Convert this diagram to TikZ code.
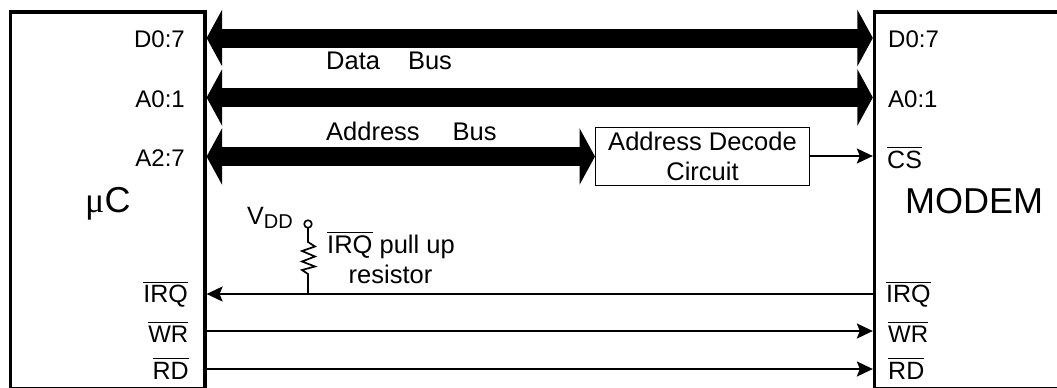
\documentclass[tikz,border=0pt]{standalone}
\usepackage{fontspec}
\setmainfont{Liberation Sans}
\newfontfamily\symf{Liberation Serif}
\usetikzlibrary{arrows.meta,calc}
\tikzset{
  x=1pt,y=-1pt,
  chip/.style={draw,line width=3.3pt,inner sep=0pt,anchor=north west},
  lab/.style={inner sep=0pt,font=\fontsize{24}{27}\selectfont},
  labo/.style={inner sep=0pt,font=\fontsize{25}{27}\selectfont},
  txt/.style={inner sep=0pt,font=\fontsize{25.5}{27}\selectfont},
  big/.style={inner sep=0pt,font=\fontsize{36}{40}\selectfont},
  wire/.style={line width=2pt},
  sig/.style={wire,-{Stealth[length=16pt,width=15pt,inset=3pt]}},
  bushead/.tip={Triangle[length=15.5pt,width=56pt]},
  busline/.style={line width=19pt},
}
\newcommand{\ov}[1]{\ensuremath{\overline{\mbox{\vphantom{\rule{0pt}{0.76em}}#1}}}}
\begin{document}
\begin{tikzpicture}
\useasboundingbox (0,0) rectangle (1057,388);
\node[chip,minimum width=194.3pt,minimum height=376.7pt] (uc) at (9,10.35) {};
\node[chip,minimum width=200pt,minimum height=376.7pt] (modem) at (872.85,10.35) {};
\coordinate (yd) at (0,38);
\coordinate (ya) at (0,97.5);
\coordinate (yh) at (0,156.5);
\coordinate (yc) at (0,156);
\coordinate (yi) at (0,294);
\coordinate (yw) at (0,331);
\coordinate (yr) at (0,369);
\node[draw,line width=1pt,minimum width=214pt,minimum height=58.5pt,inner sep=0pt,align=center,
  font=\fontsize{25.5}{30}\selectfont] (dec) at (702.5,156.5) {Address Decode\\Circuit};

\draw[busline,bushead-bushead] (uc.east|-yd) -- (modem.west|-yd);
\draw[busline,bushead-bushead] (uc.east|-ya) -- (modem.west|-ya);
\draw[busline,bushead-bushead] (uc.east|-yh) -- (dec.west|-yh);
\draw[sig] (dec.east|-yc) -- (modem.west|-yc);
\draw[sig] (modem.west|-yi) -- (uc.east|-yi);
\draw[sig] (uc.east|-yw) -- (modem.west|-yw);
\draw[sig] (uc.east|-yr) -- (modem.west|-yr);

% pull-up
\coordinate (vdd) at (308,224);
\coordinate (jn) at (308,294);
\draw[line width=1.7pt] (vdd) -- (308,242) -- (315,246.5) -- (302,251) -- (315,256.5) -- (302,261.5) -- (315,266.5) -- (302,270) -- (308,274) -- (jn);
\draw[line width=1.6pt,fill=white] (vdd) circle (3.8);

\node[lab,anchor=base east] (t1) at (185,47) {D0:7};
\node[lab,anchor=base east] (t2) at (185,107) {A0:1};
\node[lab,anchor=base east] (t3) at (185,166) {A2:7};
\node[labo,anchor=base east] (t4) at (188,302.5) {\ov{IRQ}};
\node[lab,anchor=base east] (t5) at (188.5,342) {\ov{WR}};
\node[labo,anchor=base east] (t6) at (189,379) {\ov{RD}};
\node[big,anchor=base west] (ucl) at (85,212) {{\symf μ}C};
\node[big,anchor=base] (mo) at (974,213) {MODEM};
\node[lab,anchor=base west] (r1) at (888,47) {D0:7};
\node[lab,anchor=base west] (r2) at (888,107) {A0:1};
\node[labo,anchor=base west] (r3) at (887,168) {\ov{CS}};
\node[labo,anchor=base west] (r4) at (886,302.5) {\ov{IRQ}};
\node[lab,anchor=base west] (r5) at (888,342) {\ov{WR}};
\node[labo,anchor=base west] (r6) at (888,379) {\ov{RD}};
\node[txt,anchor=base west] (b1) at (326,69) {Data\hspace{28pt}Bus};
\node[txt,anchor=base west] (b2) at (326,140) {Address\hspace{33pt}Bus};
\node[labo,anchor=base west] (v) at (247,224) {V\raisebox{-4pt}{\fontsize{20}{20}\selectfont DD}};
\node[txt,anchor=base west] (p1) at (327,253) {\ov{IRQ} pull up};
\node[txt,anchor=base] (p2) at (390.5,283) {resistor};
\end{tikzpicture}
\end{document}
